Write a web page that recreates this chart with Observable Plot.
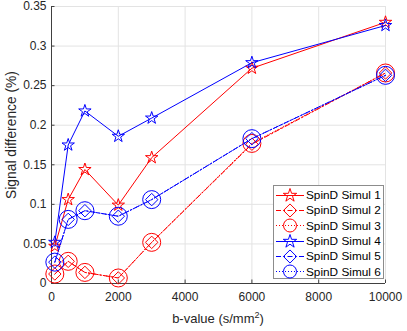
<!DOCTYPE html>
<html>
<head>
<meta charset="utf-8">
<script src="https://cdn.jsdelivr.net/npm/d3@7"></script>
<script src="https://cdn.jsdelivr.net/npm/@observablehq/plot@0.6"></script>
<style>
  body { margin: 0; background: #fff; font-family: "Liberation Sans", Arial, sans-serif; }
  #wrap { position: relative; width: 407px; height: 331px; }
  #legend { position: absolute; left: 273px; top: 185px; width: 111px; height: 94px;
            background: #fff; border: 1px solid #8c8c8c; box-sizing: border-box; padding-top: 1.5px; }
  .row { display: flex; align-items: center; height: 15.3px; font-size: 11.8px; color: #000; }
  .row svg { flex: none; }
</style>
</head>
<body>
<div id="wrap"></div>
<script>
const bValues = [100, 500, 1000, 2000, 3000, 6000, 10000];
const simul1 = [0.047, 0.106, 0.144, 0.099, 0.159, 0.272, 0.330];
const simul2 = [0.012, 0.028, 0.014, 0.007, 0.052, 0.176, 0.266];
const simul3 = [0.012, 0.028, 0.014, 0.007, 0.052, 0.177, 0.266];
const simul4 = [0.052, 0.175, 0.218, 0.186, 0.209, 0.279, 0.326];
const simul5 = [0.027, 0.081, 0.092, 0.085, 0.106, 0.183, 0.263];
const simul6 = [0.027, 0.081, 0.092, 0.085, 0.106, 0.183, 0.263];
const seriesNames = ["SpinD Simul 1", "SpinD Simul 2", "SpinD Simul 3", "SpinD Simul 4", "SpinD Simul 5", "SpinD Simul 6"];
const seriesValues = [simul1, simul2, simul3, simul4, simul5, simul6];
const seriesColors = ["#ff0000", "#ff0000", "#ff0000", "#0000ff", "#0000ff", "#0000ff"];
const seriesDash = [null, "5,2.5,1.5,2.5", "1,2", null, "5,2.5,1.5,2.5", "1,2"];
const seriesSymbols = ["star", "diamond2", "circle", "star", "diamond2", "circle"];
const seriesR = [3.9, 5.6, 9, 3.9, 5.6, 9];
const xTicks = [0, 2000, 4000, 6000, 8000, 10000];
const yTicks = [0, 0.05, 0.1, 0.15, 0.2, 0.25, 0.3, 0.35];

const marks = [
  Plot.gridX(xTicks, {stroke: "#e3e3e3", strokeOpacity: 1}),
  Plot.gridY(yTicks, {stroke: "#e3e3e3", strokeOpacity: 1}),
  Plot.axisX(xTicks, {tickSize: 0, tickPadding: 9, fontSize: 12, label: null, tickFormat: d => String(d), color: "#262626"}),
  Plot.axisY(yTicks, {tickSize: 0, tickPadding: 5, fontSize: 12, label: null, tickFormat: d => String(+d.toFixed(2)), color: "#262626"}),
  Plot.axisX(xTicks, {tickSize: -3.5, text: null, label: null, stroke: "#404040"}),
  Plot.axisY(yTicks, {tickSize: -3.5, text: null, label: null, stroke: "#404040"}),
  Plot.ruleX([0], {stroke: "#404040"}),
  Plot.ruleY([0], {stroke: "#404040"})
];
seriesValues.forEach((vals, i) => {
  const data = bValues.map((b, j) => ({b, v: vals[j]}));
  marks.push(Plot.line(data, {x: "b", y: "v", stroke: seriesColors[i], strokeWidth: 1, strokeDasharray: seriesDash[i]}));
  marks.push(Plot.dot(data, {x: "b", y: "v", stroke: seriesColors[i], strokeWidth: 1, fill: "none", symbol: seriesSymbols[i], r: seriesR[i]}));
});

const chart = Plot.plot({
  width: 407, height: 331,
  marginLeft: 51, marginRight: 22, marginTop: 6, marginBottom: 48,
  style: {fontFamily: "Liberation Sans, Arial, sans-serif", background: "#fff"},
  x: {domain: [0, 10000]},
  y: {domain: [0, 0.35]},
  marks
});
const svg = d3.select(chart);
const xl = svg.append("text").attr("x", 51 + (385 - 51) / 2).attr("y", 323)
  .attr("text-anchor", "middle").attr("font-size", 13).attr("fill", "#262626");
xl.append("tspan").text("b-value (s/mm");
xl.append("tspan").attr("dy", -5).attr("font-size", 9).text("2");
xl.append("tspan").attr("dy", 5).text(")");
svg.append("text").attr("transform", "translate(16,135) rotate(-90)")
  .attr("text-anchor", "middle").attr("font-size", 13.8).attr("fill", "#262626")
  .text("Signal difference (%)");

const wrap = document.getElementById("wrap");
wrap.appendChild(chart);

const legend = d3.select(wrap).append("div").attr("id", "legend");
seriesNames.forEach((name, i) => {
  const row = legend.append("div").attr("class", "row");
  const s = row.append("svg").attr("width", 32).attr("height", 15);
  s.append("line").attr("x1", 2).attr("x2", 30).attr("y1", 7.5).attr("y2", 7.5)
    .attr("stroke", seriesColors[i]).attr("stroke-width", 1)
    .attr("stroke-dasharray", seriesDash[i]);
  const symMap = {star: d3.symbolStar, diamond2: d3.symbolDiamond2, circle: d3.symbolCircle};
  const rr = seriesSymbols[i] === "circle" ? 6.5 : seriesR[i] + 0.3;
  s.append("path").attr("transform", "translate(16,7.5)")
    .attr("d", d3.symbol(symMap[seriesSymbols[i]], Math.PI * rr * rr)())
    .attr("fill", "none").attr("stroke", seriesColors[i]).attr("stroke-width", 1);
  row.append("span").text(name);
});
</script>
</body>
</html>
